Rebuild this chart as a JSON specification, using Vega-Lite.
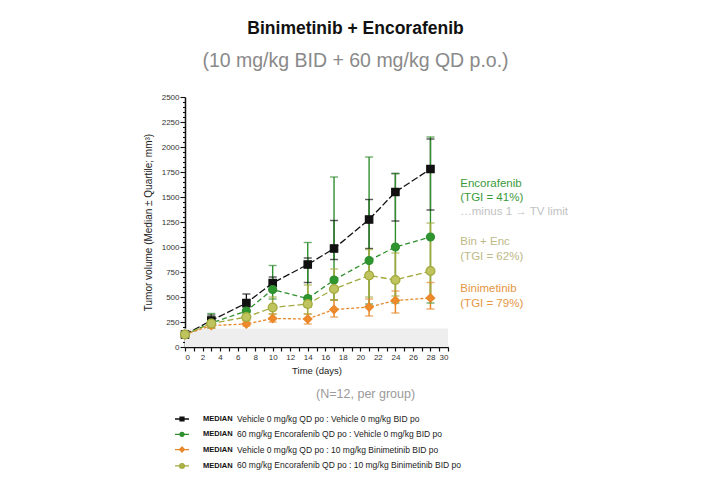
{
  "$schema": "https://vega.github.io/schema/vega-lite/v6.json",
  "width": 263,
  "height": 250,
  "autosize": {"type": "none"},
  "padding": {"left": 185, "top": 97, "right": 258, "bottom": 141},
  "background": "white",
  "config": {"font": "Liberation Sans", "view": {"stroke": null}},
  "title": {
    "text": "Binimetinib + Encorafenib",
    "subtitle": "(10 mg/kg BID + 60 mg/kg QD p.o.)",
    "fontSize": 17.5,
    "fontWeight": "bold",
    "color": "#111111",
    "subtitleFontSize": 19.5,
    "subtitleColor": "#8a8a8a",
    "subtitlePadding": 14,
    "anchor": "middle",
    "dx": 39,
    "offset": 23
  },
  "datasets": {
    "tv": [
      {"arm": "Vehicle", "day": 0, "med": 125, "q1": 110, "q3": 140},
      {"arm": "Vehicle", "day": 3, "med": 265, "q1": 235, "q3": 320},
      {"arm": "Vehicle", "day": 7, "med": 440, "q1": 400, "q3": 530},
      {"arm": "Vehicle", "day": 10, "med": 640, "q1": 560, "q3": 700},
      {"arm": "Vehicle", "day": 14, "med": 825, "q1": 645, "q3": 890},
      {"arm": "Vehicle", "day": 17, "med": 985, "q1": 875, "q3": 1265},
      {"arm": "Vehicle", "day": 21, "med": 1275, "q1": 985, "q3": 1475},
      {"arm": "Vehicle", "day": 24, "med": 1550, "q1": 1260, "q3": 1735},
      {"arm": "Vehicle", "day": 28, "med": 1780, "q1": 1370, "q3": 2080},
      {"arm": "Encorafenib", "day": 0, "med": 125, "q1": 110, "q3": 145},
      {"arm": "Encorafenib", "day": 3, "med": 240, "q1": 190, "q3": 335},
      {"arm": "Encorafenib", "day": 7, "med": 360, "q1": 300, "q3": 470},
      {"arm": "Encorafenib", "day": 10, "med": 575, "q1": 480, "q3": 815},
      {"arm": "Encorafenib", "day": 14, "med": 485, "q1": 400, "q3": 1045},
      {"arm": "Encorafenib", "day": 17, "med": 670, "q1": 470, "q3": 1700},
      {"arm": "Encorafenib", "day": 21, "med": 865, "q1": 430, "q3": 1900},
      {"arm": "Encorafenib", "day": 24, "med": 1000, "q1": 440, "q3": 1735},
      {"arm": "Encorafenib", "day": 28, "med": 1100, "q1": 440, "q3": 2100},
      {"arm": "Binimetinib", "day": 0, "med": 125, "q1": 115, "q3": 135},
      {"arm": "Binimetinib", "day": 3, "med": 215, "q1": 190, "q3": 250},
      {"arm": "Binimetinib", "day": 7, "med": 230, "q1": 210, "q3": 265},
      {"arm": "Binimetinib", "day": 10, "med": 285, "q1": 250, "q3": 330},
      {"arm": "Binimetinib", "day": 14, "med": 280, "q1": 230, "q3": 330},
      {"arm": "Binimetinib", "day": 17, "med": 375, "q1": 300, "q3": 470},
      {"arm": "Binimetinib", "day": 21, "med": 400, "q1": 310, "q3": 480},
      {"arm": "Binimetinib", "day": 24, "med": 465, "q1": 340, "q3": 560},
      {"arm": "Binimetinib", "day": 28, "med": 490, "q1": 380, "q3": 645},
      {"arm": "Bin + Enc", "day": 0, "med": 125, "q1": 110, "q3": 140},
      {"arm": "Bin + Enc", "day": 3, "med": 235, "q1": 195, "q3": 300},
      {"arm": "Bin + Enc", "day": 7, "med": 300, "q1": 260, "q3": 360},
      {"arm": "Bin + Enc", "day": 10, "med": 395, "q1": 330, "q3": 500},
      {"arm": "Bin + Enc", "day": 14, "med": 430, "q1": 330, "q3": 620},
      {"arm": "Bin + Enc", "day": 17, "med": 580, "q1": 470, "q3": 780},
      {"arm": "Bin + Enc", "day": 21, "med": 715, "q1": 500, "q3": 975},
      {"arm": "Bin + Enc", "day": 24, "med": 670, "q1": 510, "q3": 940},
      {"arm": "Bin + Enc", "day": 28, "med": 760, "q1": 480, "q3": 1240}
    ],
    "arms": [
      {"arm": "Vehicle", "treatment": "Vehicle 0 mg/kg QD po : Vehicle 0 mg/kg BID po"},
      {"arm": "Encorafenib", "treatment": "60 mg/kg Encorafenib QD po : Vehicle 0 mg/kg BID po"},
      {"arm": "Binimetinib", "treatment": "Vehicle 0 mg/kg QD po : 10 mg/kg Binimetinib BID po"},
      {"arm": "Bin + Enc", "treatment": "60 mg/kg Encorafenib QD po : 10 mg/kg Binimetinib BID po"}
    ],
    "notes": [
      {"text": "Encorafenib", "kind": "Encorafenib", "day": 31.4, "v": 1630},
      {"text": "(TGI = 41%)", "kind": "Encorafenib", "day": 31.4, "v": 1490},
      {"text": "…minus 1 → TV limit", "kind": "note", "day": 31.4, "v": 1350},
      {"text": "Bin + Enc", "kind": "Bin + Enc", "day": 31.4, "v": 1050},
      {"text": "(TGI = 62%)", "kind": "Bin + Enc", "day": 31.4, "v": 900},
      {"text": "Binimetinib", "kind": "Binimetinib", "day": 31.4, "v": 580},
      {"text": "(TGI = 79%)", "kind": "Binimetinib", "day": 31.4, "v": 432}
    ]
  },
  "layer": [
    {
      "data": {"values": [{"d0": 0, "d1": 30, "v0": 0, "v1": 185}]},
      "mark": {"type": "rect", "color": "#eeeeee"},
      "encoding": {
        "x": {
          "field": "d0", "type": "quantitative",
          "scale": {"domain": [0, 30], "nice": false, "zero": false},
          "axis": {
            "title": "Time (days)",
            "values": [0,1,2,3,4,5,6,7,8,9,10,11,12,13,14,15,16,17,18,19,20,21,22,23,24,25,26,27,28,29,30],
            "tickCount": 100,
            "format": "d",
            "labelExpr": "datum.value % 2 === 0 ? datum.label : ''",
            "labelOverlap": false,
            "labelFontSize": 8,
            "labelColor": "#333333",
            "labelPadding": 2,
            "tickColor": "#111111",
            "tickSize": 4,
            "tickWidth": 1.2,
            "domainColor": "#111111",
            "domainWidth": 1.5,
            "grid": false,
            "titleFontSize": 9.5,
            "titleFontWeight": "normal",
            "titleColor": "#222222",
            "titlePadding": 4
          }
        },
        "x2": {"field": "d1"},
        "y": {
          "field": "v0", "type": "quantitative",
          "scale": {"domain": [0, 2500], "nice": false},
          "axis": {
            "title": "Tumor volume (Median ± Quartile; mm³)",
            "values": [0,50,100,150,200,250,300,350,400,450,500,550,600,650,700,750,800,850,900,950,1000,1050,1100,1150,1200,1250,1300,1350,1400,1450,1500,1550,1600,1650,1700,1750,1800,1850,1900,1950,2000,2050,2100,2150,2200,2250,2300,2350,2400,2450,2500],
            "tickCount": 100,
            "format": "d",
            "labelExpr": "datum.value % 250 === 0 ? datum.label : ''",
            "labelOverlap": false,
            "labelFontSize": 8,
            "labelColor": "#333333",
            "labelPadding": 1,
            "tickColor": "#111111",
            "tickSize": {"condition": {"test": "datum.value % 250 === 0", "value": 5}, "value": 2.5},
            "tickWidth": 1.1,
            "domainColor": "#111111",
            "domainWidth": 1.5,
            "grid": false,
            "titleFontSize": 10,
            "titleFontWeight": "normal",
            "titleColor": "#222222",
            "titlePadding": 8
          }
        },
        "y2": {"field": "v1"}
      }
    },
    {
      "data": {"name": "tv"},
      "transform": [
        {"lookup": "arm", "from": {"data": {"name": "arms"}, "key": "arm", "fields": ["treatment"]}}
      ],
      "mark": {"type": "line", "strokeWidth": 1.3},
      "encoding": {
        "x": {"field": "day", "type": "quantitative"},
        "y": {"field": "med", "type": "quantitative"},
        "stroke": {
          "field": "arm", "type": "nominal",
          "scale": {
            "domain": ["Vehicle", "Encorafenib", "Binimetinib", "Bin + Enc"],
            "range": ["#111111", "#2f8f2f", "#e8872a", "#a2a93c"]
          },
          "legend": {
            "orient": "none",
            "legendX": -11,
            "legendY": 314,
            "title": null,
            "labelExpr": "'MEDIAN'",
            "labelFontWeight": "bold",
            "labelFontSize": 7.5,
            "labelColor": "#111111",
            "labelOffset": 13,
            "symbolSize": 196,
            "rowPadding": 2.3,
            "encode": {
              "symbols": {
                "update": {
                  "shape": {"signal": "datum.value === 'Vehicle' ? 'M-1,0H1M-0.28,-0.28H0.28V0.28H-0.28Z' : datum.value === 'Binimetinib' ? 'M-1,0H1M0,-0.36L0.36,0L0,0.36L-0.36,0Z' : datum.value === 'Bin + Enc' ? 'M-1,0H1M0.33,0A0.33,0.33,0,1,1,-0.33,0A0.33,0.33,0,1,1,0.33,0Z' : 'M-1,0H1M0.28,0A0.28,0.28,0,1,1,-0.28,0A0.28,0.28,0,1,1,0.28,0Z'"},
                  "size": {"value": 196},
                  "fill": {"scale": "fill", "field": "value"},
                  "strokeWidth": {"value": 1.3},
                  "strokeDash": {"value": []},
                  "opacity": {"value": 1}
                }
              }
            }
          }
        },
        "strokeDash": {
          "field": "treatment", "type": "nominal",
          "scale": {
            "domain": [
              "Vehicle 0 mg/kg QD po : Vehicle 0 mg/kg BID po",
              "60 mg/kg Encorafenib QD po : Vehicle 0 mg/kg BID po",
              "Vehicle 0 mg/kg QD po : 10 mg/kg Binimetinib BID po",
              "60 mg/kg Encorafenib QD po : 10 mg/kg Binimetinib BID po"
            ],
            "range": [[7, 2.5], [5, 3], [3, 2], [6, 3]]
          },
          "legend": {
            "orient": "none",
            "legendX": 23,
            "legendY": 314,
            "title": null,
            "labelFontSize": 8.5,
            "labelColor": "#222222",
            "labelOffset": 13,
            "labelLimit": 400,
            "symbolSize": 196,
            "symbolOpacity": 0,
            "rowPadding": 2.3
          }
        }
      }
    },
    {
      "data": {"name": "tv"},
      "mark": {"type": "rule"},
      "encoding": {
        "x": {"field": "day", "type": "quantitative"},
        "y": {"field": "q1", "type": "quantitative"},
        "y2": {"field": "q3"},
        "stroke": {"field": "arm", "type": "nominal"},
        "strokeWidth": {
          "field": "arm", "type": "nominal",
          "scale": {"range": [1.6, 1.3, 2, 1.3]},
          "legend": null
        }
      }
    },
    {
      "data": {"name": "tv"},
      "transform": [{"fold": ["q1", "q3"], "as": ["bound", "v"]}],
      "mark": {"type": "tick", "orient": "horizontal", "size": 8, "thickness": 1.4},
      "encoding": {
        "x": {"field": "day", "type": "quantitative"},
        "y": {"field": "v", "type": "quantitative"},
        "color": {
          "field": "arm", "type": "nominal",
          "scale": {"range": ["#a2a93c", "#e8872a", "#2f8f2f", "#111111"]},
          "legend": null
        }
      }
    },
    {
      "data": {"name": "tv"},
      "mark": {"type": "point", "filled": true, "strokeWidth": 1.2, "opacity": 1},
      "encoding": {
        "x": {"field": "day", "type": "quantitative"},
        "y": {"field": "med", "type": "quantitative"},
        "fill": {
          "field": "arm", "type": "nominal",
          "scale": {"range": ["#bfc45e", "#ee8a2c", "#2f962f", "#111111"]},
          "legend": null
        },
        "stroke": {"field": "arm", "type": "nominal"},
        "shape": {
          "field": "arm", "type": "nominal",
          "scale": {"range": ["circle", "diamond", "circle", "square"]},
          "legend": null
        },
        "size": {
          "field": "arm", "type": "nominal",
          "scale": {"range": [80, 55, 50, 50]},
          "legend": null
        }
      }
    },
    {
      "data": {"name": "notes"},
      "mark": {"type": "text", "align": "left", "baseline": "middle", "fontSize": 11.5, "clip": false},
      "encoding": {
        "x": {"field": "day", "type": "quantitative"},
        "y": {"field": "v", "type": "quantitative"},
        "text": {"field": "text"},
        "color": {
          "field": "kind", "type": "nominal",
          "scale": {
            "domain": ["Encorafenib", "note", "Bin + Enc", "Binimetinib"],
            "range": ["#3a9a3a", "#c2c2c2", "#bdb985", "#e6953f"]
          },
          "legend": null
        }
      }
    },
    {
      "data": {"values": [{"text": "(N=12, per group)", "day": 20.6, "v": -466}]},
      "mark": {"type": "text", "align": "center", "baseline": "middle", "fontSize": 12.5, "color": "#9a9a9a", "clip": false},
      "encoding": {
        "x": {"field": "day", "type": "quantitative"},
        "y": {"field": "v", "type": "quantitative"},
        "text": {"field": "text"}
      }
    }
  ],
  "resolve": {"scale": {"color": "independent"}}
}
